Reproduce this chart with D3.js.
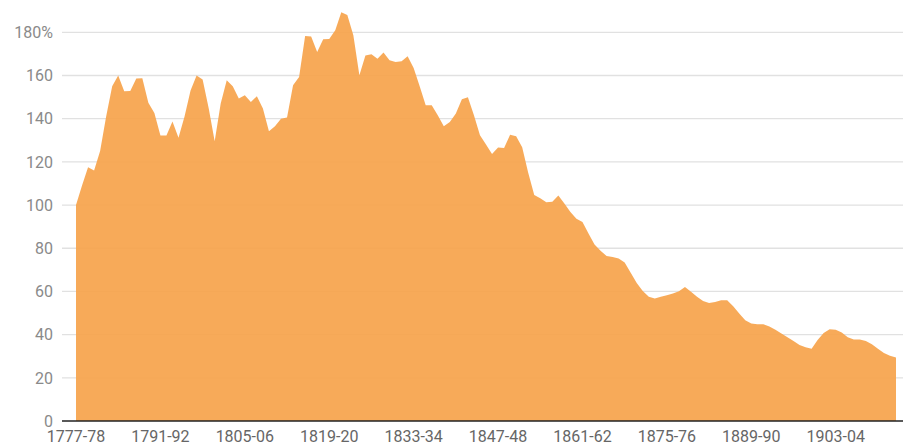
<!DOCTYPE html>
<html>
<head>
<meta charset="utf-8">
<script src="https://cdn.jsdelivr.net/npm/d3@7"></script>
<style>
  html, body { margin: 0; padding: 0; background: #fff; }
  svg { display: block; }
  text { font-family: Roboto, "Noto Sans", sans-serif; }
</style>
</head>
<body>
<svg id="chart" width="903" height="443"></svg>
<script>
// Seasons (categories), 1777-78 through 1913-14
const firstYear = 1777;
const seasonCount = 137;
const seasons = d3.range(seasonCount).map(i => {
  const y = firstYear + i;
  return y + "-" + String(y + 1).slice(2);
});

// Index values (percent)
const values = [
  100, 109, 117.5, 116, 125, 141, 155, 160, 152.7, 152.8,
  158.6, 158.7, 147.4, 142.6, 132.2, 132.2, 138.7, 131.2, 141, 153,
  160, 158.2, 145, 129.5, 147, 157.8, 155, 149.4, 150.8, 147.7,
  150.4, 144.7, 134.2, 136.5, 140, 140.5, 155.5, 159.3, 178.3, 178.1,
  170.9, 176.8, 176.9, 180.9, 189.3, 188, 178.6, 160.1, 169.3, 169.8,
  167.8, 170.6, 167, 166.3, 166.6, 168.9, 163.5, 155, 146.2, 146.2,
  141.6, 136.5, 138.5, 142.4, 149, 149.9, 141.6, 132.3, 128.1, 123.7,
  126.7, 126.4, 132.6, 131.9, 126.8, 115, 104.6, 103.2, 101.3, 101.5,
  104.4, 100.7, 96.8, 93.7, 92.2, 86.8, 81.7, 78.8, 76.4, 76,
  75.2, 73.4, 68.6, 63.9, 60.2, 57.5, 56.7, 57.5, 58.2, 59,
  60.1, 62.1, 59.8, 57.5, 55.6, 54.7, 55.1, 55.9, 55.9, 53.1,
  49.8, 46.7, 45.1, 44.8, 44.8, 43.8, 42.3, 40.5, 38.8, 37,
  35.2, 34.2, 33.5, 37.5, 40.8, 42.5, 42.3, 41, 38.8, 37.7,
  37.7, 37, 35.5, 33.5, 31.5, 30.2, 29.4
];

const xTickLabels = ["1777-78", "1791-92", "1805-06", "1819-20", "1833-34",
                     "1847-48", "1861-62", "1875-76", "1889-90", "1903-04"];
const yTicks = [0, 20, 40, 60, 80, 100, 120, 140, 160, 180];

const data = seasons.map((s, i) => ({ season: s, value: values[i] }));

const svg = d3.select("#chart");
const W = 903;
const gridLeft = 62;

const x = d3.scalePoint().domain(seasons).range([76, 896]);
const y = d3.scaleLinear().domain([0, 180]).range([421, 32.3]);

// gridlines
svg.append("g")
  .selectAll("line")
  .data(yTicks.filter(d => d !== 0))
  .join("line")
  .attr("x1", gridLeft).attr("x2", W)
  .attr("y1", d => y(d)).attr("y2", d => y(d))
  .attr("stroke", "#e1e1e1")
  .attr("stroke-width", 1.3);

// area
const area = d3.area()
  .x(d => x(d.season))
  .y0(y(0))
  .y1(d => y(d.value));

svg.append("path")
  .datum(data)
  .attr("d", area)
  .attr("fill", "#f6a44c")
  .attr("fill-opacity", 0.93);

// baseline
svg.append("line")
  .attr("x1", gridLeft).attr("x2", W)
  .attr("y1", y(0)).attr("y2", y(0))
  .attr("stroke", "#222")
  .attr("stroke-width", 1.5);

// y labels
svg.append("g")
  .selectAll("text")
  .data(yTicks)
  .join("text")
  .attr("x", 53)
  .attr("y", d => y(d))
  .attr("dy", "0.36em")
  .attr("text-anchor", "end")
  .attr("font-size", 16)
  .attr("fill", "#8a8a8a")
  .text(d => d === 180 ? d + "%" : d);

// x labels
svg.append("g")
  .selectAll("text")
  .data(xTickLabels)
  .join("text")
  .attr("x", d => x(d))
  .attr("y", 442)
  .attr("text-anchor", "middle")
  .attr("font-size", 16)
  .attr("fill", "#666")
  .text(d => d);
</script>
</body>
</html>
